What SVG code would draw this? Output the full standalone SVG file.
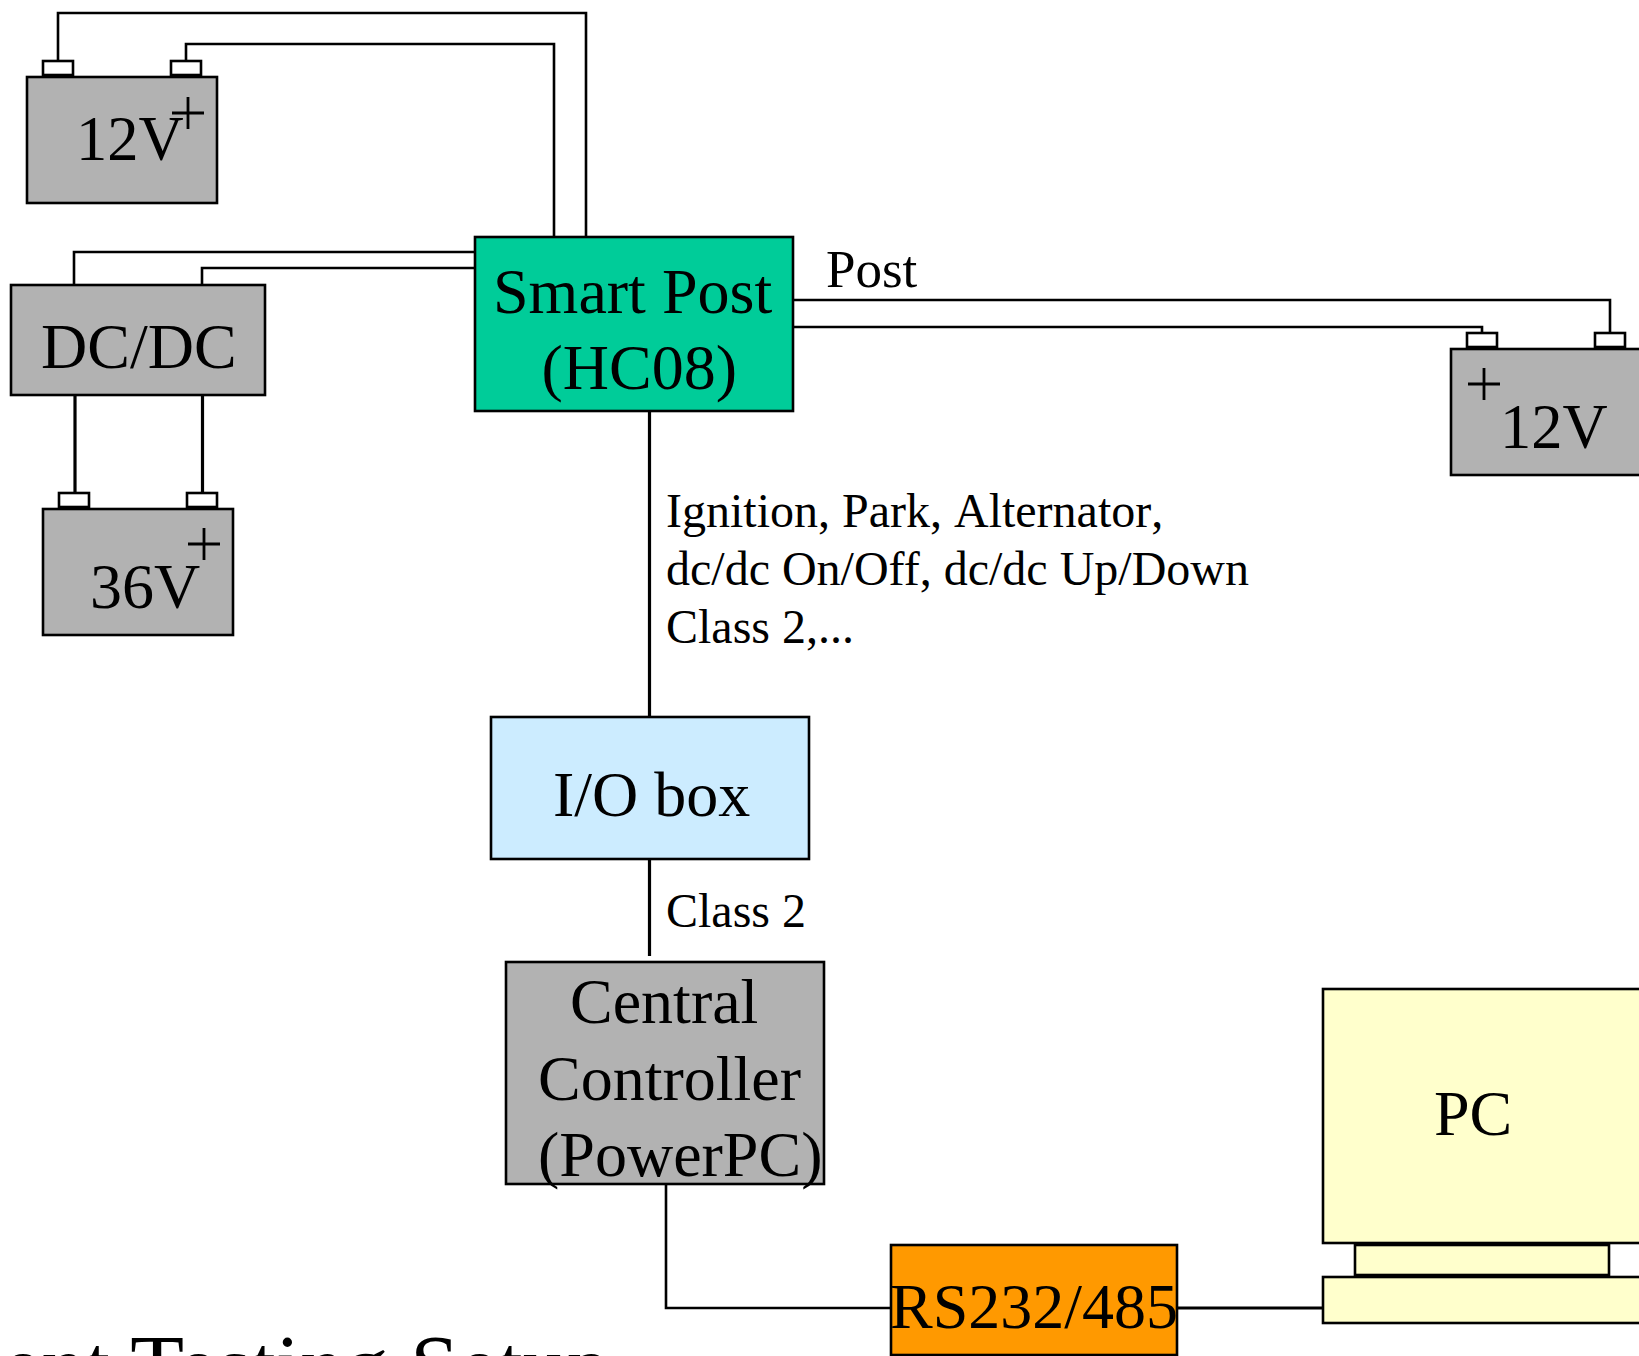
<svg xmlns="http://www.w3.org/2000/svg" width="1639" height="1356" viewBox="0 0 1639 1356">
<style>
text{font-family:"Liberation Serif","Times New Roman",serif;fill:#000}
.n{font-size:64px}
.b{font-size:62.5px}
.l{font-size:48px}
rect{stroke:#000;stroke-width:2.6}
.g{fill:#b2b2b2}
.w{fill:#fff}
.y{fill:#ffffcc}
.c path{fill:none;stroke:#000;stroke-width:2.6}
.c .t{stroke-width:3.2}
.p{fill:none;stroke:#000;stroke-width:2.8}
</style>
<g id="connectors" class="c">
<path d="M58 61V13H586V237"/>
<path d="M186 61V44H554V237"/>
<path d="M475 252H74V285"/>
<path d="M475 268H202V285"/>
<path class="t" d="M75 395V493"/>
<path class="t" d="M202.500 395V493"/>
<path d="M793 300H1610V333"/>
<path d="M793 327H1482V333"/>
<path class="t" d="M649.500 411V717"/>
<path class="t" d="M649.500 859V956"/>
<path d="M666 1184V1308H891"/>
<path class="t" d="M1177 1308H1323"/>
</g>
<g id="battery-12v-left">
<rect class="w" x="43" y="61" width="30" height="14"/>
<rect class="w" x="171" y="61" width="30" height="14"/>
<rect class="g" x="27" y="77" width="190" height="126"/>
<text class="b" x="76" y="160">12V</text>
<path class="p" d="M172 113H204M188 97V129"/>
</g>
<g id="dcdc">
<rect class="g" x="11" y="285" width="254" height="110"/>
<text class="n" x="41" y="368">DC/DC</text>
</g>
<g id="battery-36v">
<rect class="w" x="59" y="493" width="30" height="14"/>
<rect class="w" x="187" y="493" width="30" height="14"/>
<rect class="g" x="43" y="509" width="190" height="126"/>
<text class="n" x="90" y="607.500">36V</text>
<path class="p" d="M188 544H220M204 528V560"/>
</g>
<g id="smart-post">
<rect x="475" y="237" width="318" height="174" fill="#00cc99"/>
<text class="n" x="493" y="313">Smart Post</text>
<text class="n" x="541.500" y="389">(HC08)</text>
</g>
<g id="battery-12v-right">
<rect class="w" x="1467" y="333" width="30" height="14"/>
<rect class="w" x="1595" y="333" width="30" height="14"/>
<rect class="g" x="1451" y="349" width="220" height="126"/>
<text class="b" x="1500" y="448">12V</text>
<path class="p" d="M1468 384H1500M1484 368V400"/>
</g>
<g id="labels">
<text x="826" y="287" style="font-size:53px">Post</text>
<text class="l" x="666" y="527" style="font-kerning:none">Ignition, Park, Alternator,</text>
<text class="l" x="666" y="585">dc/dc On/Off, dc/dc Up/Down</text>
<text class="l" x="666" y="643">Class 2,...</text>
<text class="l" x="666" y="927">Class 2</text>
</g>
<g id="io-box">
<rect x="491" y="717" width="318" height="142" fill="#ccecff"/>
<text class="n" x="553" y="816">I/O box</text>
</g>
<g id="central-controller">
<rect class="g" x="506" y="962" width="318" height="222"/>
<text class="n" x="570" y="1023">Central</text>
<text class="n" x="538" y="1100">Controller</text>
<text class="n" x="538" y="1176">(PowerPC)</text>
</g>
<g id="rs232">
<rect x="891" y="1245" width="286" height="110" fill="#ff9900"/>
<text class="n" x="890" y="1328">RS232/485</text>
</g>
<g id="pc">
<rect class="y" x="1323" y="989" width="340" height="254"/>
<rect class="y" x="1355" y="1245" width="254" height="30"/>
<rect class="y" x="1323" y="1277" width="340" height="46"/>
<text class="n" x="1434" y="1135">PC</text>
</g>
<text id="caption" x="-66" y="1396" style="font-size:88px">ment Testing Setup</text>
</svg>
